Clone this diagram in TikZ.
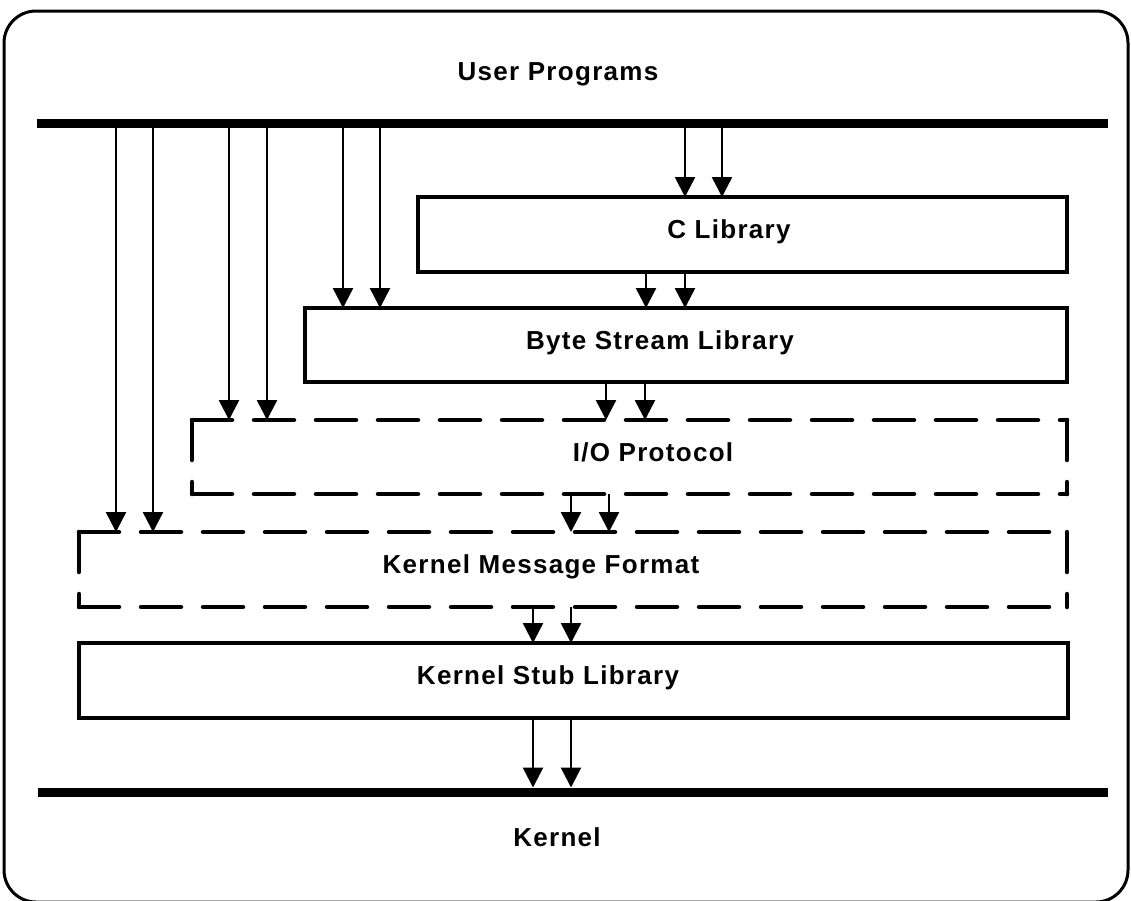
\documentclass[tikz,border=0pt]{standalone}
\usepackage{fontspec}
\newfontfamily\labfont{Liberation Sans}[LetterSpace=5]
\usetikzlibrary{arrows.meta}
\begin{document}
\begin{tikzpicture}[x=1pt,y=-1pt,
  solidbox/.style={draw, line width=4.5pt, rectangle, inner sep=0pt, outer sep=0pt, anchor=north west},
  dashbox/.style={rectangle, inner sep=0pt, outer sep=0pt, anchor=north west},
  dashline/.style={line width=4.5pt, line cap=round, dash pattern=on 40pt off 22pt},
  bar/.style={fill=black, rectangle, inner sep=0pt, outer sep=0pt, minimum height=9pt, anchor=west},
  lab/.style={font=\labfont\bfseries\fontsize{26}{31}\selectfont, anchor=base, inner sep=0pt},
  arr/.style={line width=2.5pt, -{Triangle[length=20pt,width=20pt]}}]
\useasboundingbox (0,0) rectangle (1131,900);
\draw[line width=3pt, rounded corners=32pt] (4,11) rectangle (1128,902);

% bars
\node[bar, minimum width=1071pt] (topbar) at (37,123) {};
\node[bar, minimum width=1070pt] (botbar) at (38,792) {};

% boxes
\node[solidbox, minimum width=649pt, minimum height=75pt] (clib) at (418,197) {};
\node[solidbox, minimum width=762pt, minimum height=74pt] (bsl) at (305,308) {};
\node[dashbox, minimum width=875pt, minimum height=74pt] (io) at (192,420) {};
\node[dashbox, minimum width=988pt, minimum height=75pt] (kmf) at (79,532) {};
\node[solidbox, minimum width=989pt, minimum height=75pt] (ksl) at (79,643) {};

% dashed borders, each side started from its corner
\foreach \b in {io,kmf}{
  \draw[dashline] (\b.north west) -- (\b.north east);
  \draw[dashline] (\b.north west) -- (\b.south west);
  \draw[dashline] (\b.south west) -- (\b.south east);
  \draw[dashline] (\b.north east) -- (\b.south east);
}

% labels
\node[lab] (lup) at (558,80) {User Programs};
\node[lab] (lclib) at (729,238) {C Library};
\node[lab] (lbsl) at (660,349) {Byte Stream Library};
\node[lab] (lio) at (653,461) {I/O Protocol};
\node[lab] (lkmf) at (541,573) {Kernel Message Format};
\node[lab] (lksl) at (548,684) {Kernel Stub Library};
\node[lab] (lker) at (557,846) {Kernel};

% x positions
\foreach \n/\x in {a/116,b/153,c/229,d/267,e/343,f/380,g/685,h/722,i/646,j/606,k/645,l/571,m/609,n/533}
  \coordinate (x\n) at (\x,0);

% arrows
\draw[arr] (xa |- topbar.south) -- (xa |- kmf.north);
\draw[arr] (xb |- topbar.south) -- (xb |- kmf.north);
\draw[arr] (xc |- topbar.south) -- (xc |- io.north);
\draw[arr] (xd |- topbar.south) -- (xd |- io.north);
\draw[arr] (xe |- topbar.south) -- (xe |- bsl.north);
\draw[arr] (xf |- topbar.south) -- (xf |- bsl.north);
\draw[arr] (xg |- topbar.south) -- (xg |- clib.north);
\draw[arr] (xh |- topbar.south) -- (xh |- clib.north);
\draw[arr] (xi |- clib.south) -- (xi |- bsl.north);
\draw[arr] (xg |- clib.south) -- (xg |- bsl.north);
\draw[arr] (xj |- bsl.south) -- (xj |- io.north);
\draw[arr] (xk |- bsl.south) -- (xk |- io.north);
\draw[arr] (xl |- io.south) -- (xl |- kmf.north);
\draw[arr] (xm |- io.south) -- (xm |- kmf.north);
\draw[arr] (xn |- kmf.south) -- (xn |- ksl.north);
\draw[arr] (xl |- kmf.south) -- (xl |- ksl.north);
\draw[arr] (xn |- ksl.south) -- (xn |- botbar.north);
\draw[arr] (xl |- ksl.south) -- (xl |- botbar.north);
\end{tikzpicture}
\end{document}
